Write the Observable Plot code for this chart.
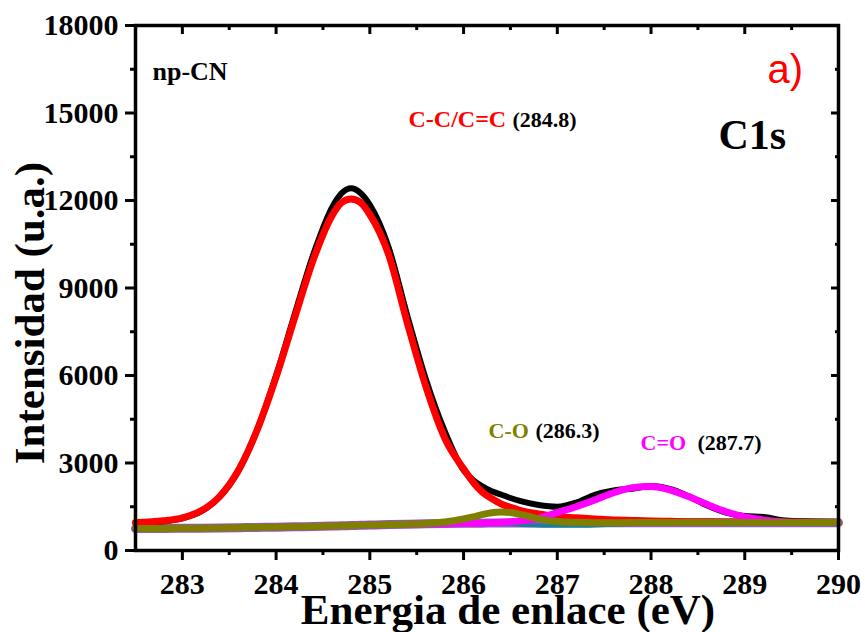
<!DOCTYPE html>
<html>
<head>
<meta charset="utf-8">
<script src="https://cdn.jsdelivr.net/npm/d3@7"></script>
<script src="https://cdn.jsdelivr.net/npm/@observablehq/plot@0.6"></script>
<style>
  html, body { margin: 0; padding: 0; background: #fff; }
  #chart { width: 865px; height: 632px; }
</style>
</head>
<body>
<div id="chart"></div>
<script>
// Binding energy grid (eV)
const energy = [282.5, 282.8, 283.0, 283.2, 283.4, 283.6, 283.8, 284.0, 284.2, 284.4, 284.6, 284.7, 284.8, 284.9, 285.0, 285.2, 285.4, 285.6, 285.8, 286.0, 286.1, 286.2, 286.3, 286.4, 286.5, 286.6, 286.8, 287.0, 287.2, 287.4, 287.6, 287.8, 288.0, 288.2, 288.4, 288.6, 288.8, 289.0, 289.2, 289.4, 289.6, 289.8, 290.0];
// Measured spectrum (black)
const measured = [930, 1000, 1100, 1340, 1840, 2740, 4150, 6000, 8120, 10180, 11780, 12250, 12420, 12260, 11850, 10400, 8050, 5850, 4080, 2750, 2420, 2200, 2030, 1920, 1800, 1700, 1560, 1500, 1640, 1910, 2060, 2120, 2210, 2110, 1860, 1540, 1300, 1180, 1150, 1040, 1000, 985, 980];
// C-C/C=C component (red)
const fitCC = [960, 1020, 1120, 1360, 1860, 2760, 4150, 5950, 8000, 10000, 11500, 11930, 12050, 11930, 11520, 10150, 7800, 5600, 3850, 2800, 2350, 2000, 1780, 1600, 1480, 1380, 1250, 1170, 1120, 1080, 1050, 1030, 1010, 1000, 990, 985, 980, 975, 972, 970, 968, 966, 965];
// C-O component (olive)
const fitCO = [750, 755, 760, 765, 772, 780, 790, 800, 812, 825, 840, 848, 856, 864, 872, 888, 902, 925, 975, 1080, 1150, 1232, 1297, 1322, 1301, 1239, 1084, 995, 965, 955, 955, 956, 956, 957, 957, 958, 958, 959, 959, 960, 960, 960, 960];
// C=O component (magenta)
const fitC2O = [750, 755, 760, 765, 772, 780, 790, 800, 812, 825, 840, 848, 856, 864, 872, 888, 902, 914, 924, 934, 938, 944, 955, 968, 985, 1010, 1100, 1300, 1500, 1730, 1980, 2150, 2195, 2080, 1850, 1575, 1330, 1155, 1048, 990, 966, 958, 956];
// Minor component (teal)
const fitMinor = [750, 755, 760, 765, 772, 780, 790, 800, 812, 825, 840, 848, 856, 864, 872, 888, 902, 914, 924, 932, 935, 938, 940, 930, 905, 880, 860, 850, 850, 860, 880, 910, 935, 952, 952, 953, 953, 954, 954, 955, 955, 955, 955];
// Background (purple)
const background = [750, 755, 760, 765, 772, 780, 790, 800, 812, 825, 840, 848, 856, 864, 872, 888, 902, 914, 924, 932, 935, 938, 940, 942, 944, 945, 947, 948, 949, 950, 950, 951, 951, 952, 952, 953, 953, 954, 954, 955, 955, 955, 955];

// Ticks
const xTicks = [283, 284, 285, 286, 287, 288, 289, 290];
const xMinor = [283.5, 284.5, 285.5, 286.5, 287.5, 288.5, 289.5];
const yTicks = [0, 3000, 6000, 9000, 12000, 15000, 18000];
const yMinor = [1500, 4500, 7500, 10500, 13500, 16500];

// Texts
const xTitle = "Energia de enlace (eV)";
const yTitle = "Intensidad (u.a.)";
const sampleName = "np-CN";
const panelTag = "a)";
const regionName = "C1s";
const peakNames = ["C-C/C=C", "C-O", "C=O"];
const peakPositions = ["(284.8)", "(286.3)", "(287.7)"];

const rows = ys => energy.map((e, i) => ({e, v: ys[i]}));
const lineOpts = (stroke, w) => ({x: "e", y: "v", stroke, strokeWidth: w, curve: "monotone-x", strokeLinejoin: "round"});
const noText = () => "";
const serif = "'Liberation Serif', 'Times New Roman', serif";

const chart = Plot.plot({
  width: 865, height: 632,
  marginLeft: 135, marginRight: 27, marginTop: 25, marginBottom: 82,
  x: {domain: [282.5, 290]},
  y: {domain: [0, 18000]},
  style: {fontFamily: serif, fontWeight: "bold", background: "white", color: "black", overflow: "visible"},
  marks: [
    Plot.line(rows(background), lineOpts("#8e5cc0", 9)),
    Plot.line(rows(fitMinor), lineOpts("#1a7f9a", 4)),
    Plot.line(rows(measured), lineOpts("black", 6)),
    Plot.line(rows(fitCC), lineOpts("#ff0000", 7)),
    Plot.line(rows(fitC2O), lineOpts("#ff00ff", 7)),
    Plot.line(rows(fitCO), lineOpts("#808000", 7)),
    Plot.frame({strokeWidth: 3.5}),
    Plot.axisX({ticks: xTicks, tickSize: 10, tickFormat: noText, strokeWidth: 3, label: null}),
    Plot.axisX({ticks: xMinor, tickSize: 5, tickFormat: noText, strokeWidth: 3, label: null}),
    Plot.axisX({anchor: "top", ticks: xTicks, tickSize: -8, tickFormat: noText, strokeWidth: 3, label: null}),
    Plot.axisX({anchor: "top", ticks: xMinor, tickSize: -4, tickFormat: noText, strokeWidth: 3, label: null}),
    Plot.text(xTicks, {x: d => d, frameAnchor: "bottom", dy: 43, lineAnchor: "bottom", textAnchor: "middle", text: d => String(d), fontSize: 30, fill: "black"}),
    Plot.axisY({ticks: yTicks, tickSize: 10, tickPadding: 7, tickFormat: "d", fontSize: 30, strokeWidth: 3, label: null}),
    Plot.axisY({ticks: yMinor, tickSize: 5, tickFormat: noText, strokeWidth: 3, label: null}),
    Plot.axisY({anchor: "right", ticks: yTicks, tickSize: -8, tickFormat: noText, strokeWidth: 3, label: null}),
    Plot.axisY({anchor: "right", ticks: yMinor, tickSize: -4, tickFormat: noText, strokeWidth: 3, label: null}),
    Plot.text([xTitle], {frameAnchor: "bottom", dx: 21, dy: 73, lineAnchor: "bottom", textAnchor: "middle", text: d => d, fontSize: 43, fill: "black"}),
    Plot.text([yTitle], {frameAnchor: "left", dx: -92, dy: 25, rotate: -90, lineAnchor: "bottom", textAnchor: "middle", text: d => d, fontSize: 43, fill: "black"}),
    Plot.text([sampleName], {frameAnchor: "top-left", dx: 17, dy: 54, lineAnchor: "bottom", textAnchor: "start", text: d => d, fontSize: 26, fill: "black"}),
    Plot.text([panelTag], {frameAnchor: "top-left", dx: 632, dy: 57, lineAnchor: "bottom", textAnchor: "start", text: d => d, fontSize: 40, fill: "#ff0000", fontFamily: "'Liberation Sans', Arial, sans-serif", fontWeight: "normal"}),
    Plot.text([regionName], {frameAnchor: "top-left", dx: 583, dy: 123, lineAnchor: "bottom", textAnchor: "start", text: d => d, fontSize: 42, fill: "black"}),
    Plot.text([peakNames[0]], {frameAnchor: "top-left", dx: 273, dy: 101, lineAnchor: "bottom", textAnchor: "start", text: d => d, fontSize: 24, fill: "#ff0000"}),
    Plot.text([peakPositions[0]], {frameAnchor: "top-left", dx: 377, dy: 101, lineAnchor: "bottom", textAnchor: "start", text: d => d, fontSize: 22, fill: "black"}),
    Plot.text([peakNames[1]], {frameAnchor: "top-left", dx: 353, dy: 412, lineAnchor: "bottom", textAnchor: "start", text: d => d, fontSize: 22, fill: "#808000"}),
    Plot.text([peakPositions[1]], {frameAnchor: "top-left", dx: 400, dy: 412, lineAnchor: "bottom", textAnchor: "start", text: d => d, fontSize: 22, fill: "black"}),
    Plot.text([peakNames[2]], {frameAnchor: "top-left", dx: 505, dy: 424, lineAnchor: "bottom", textAnchor: "start", text: d => d, fontSize: 22, fill: "#ff00ff"}),
    Plot.text([peakPositions[2]], {frameAnchor: "top-left", dx: 562, dy: 424, lineAnchor: "bottom", textAnchor: "start", text: d => d, fontSize: 22, fill: "black"})
  ]
});
document.getElementById("chart").appendChild(chart);
</script>
</body>
</html>
